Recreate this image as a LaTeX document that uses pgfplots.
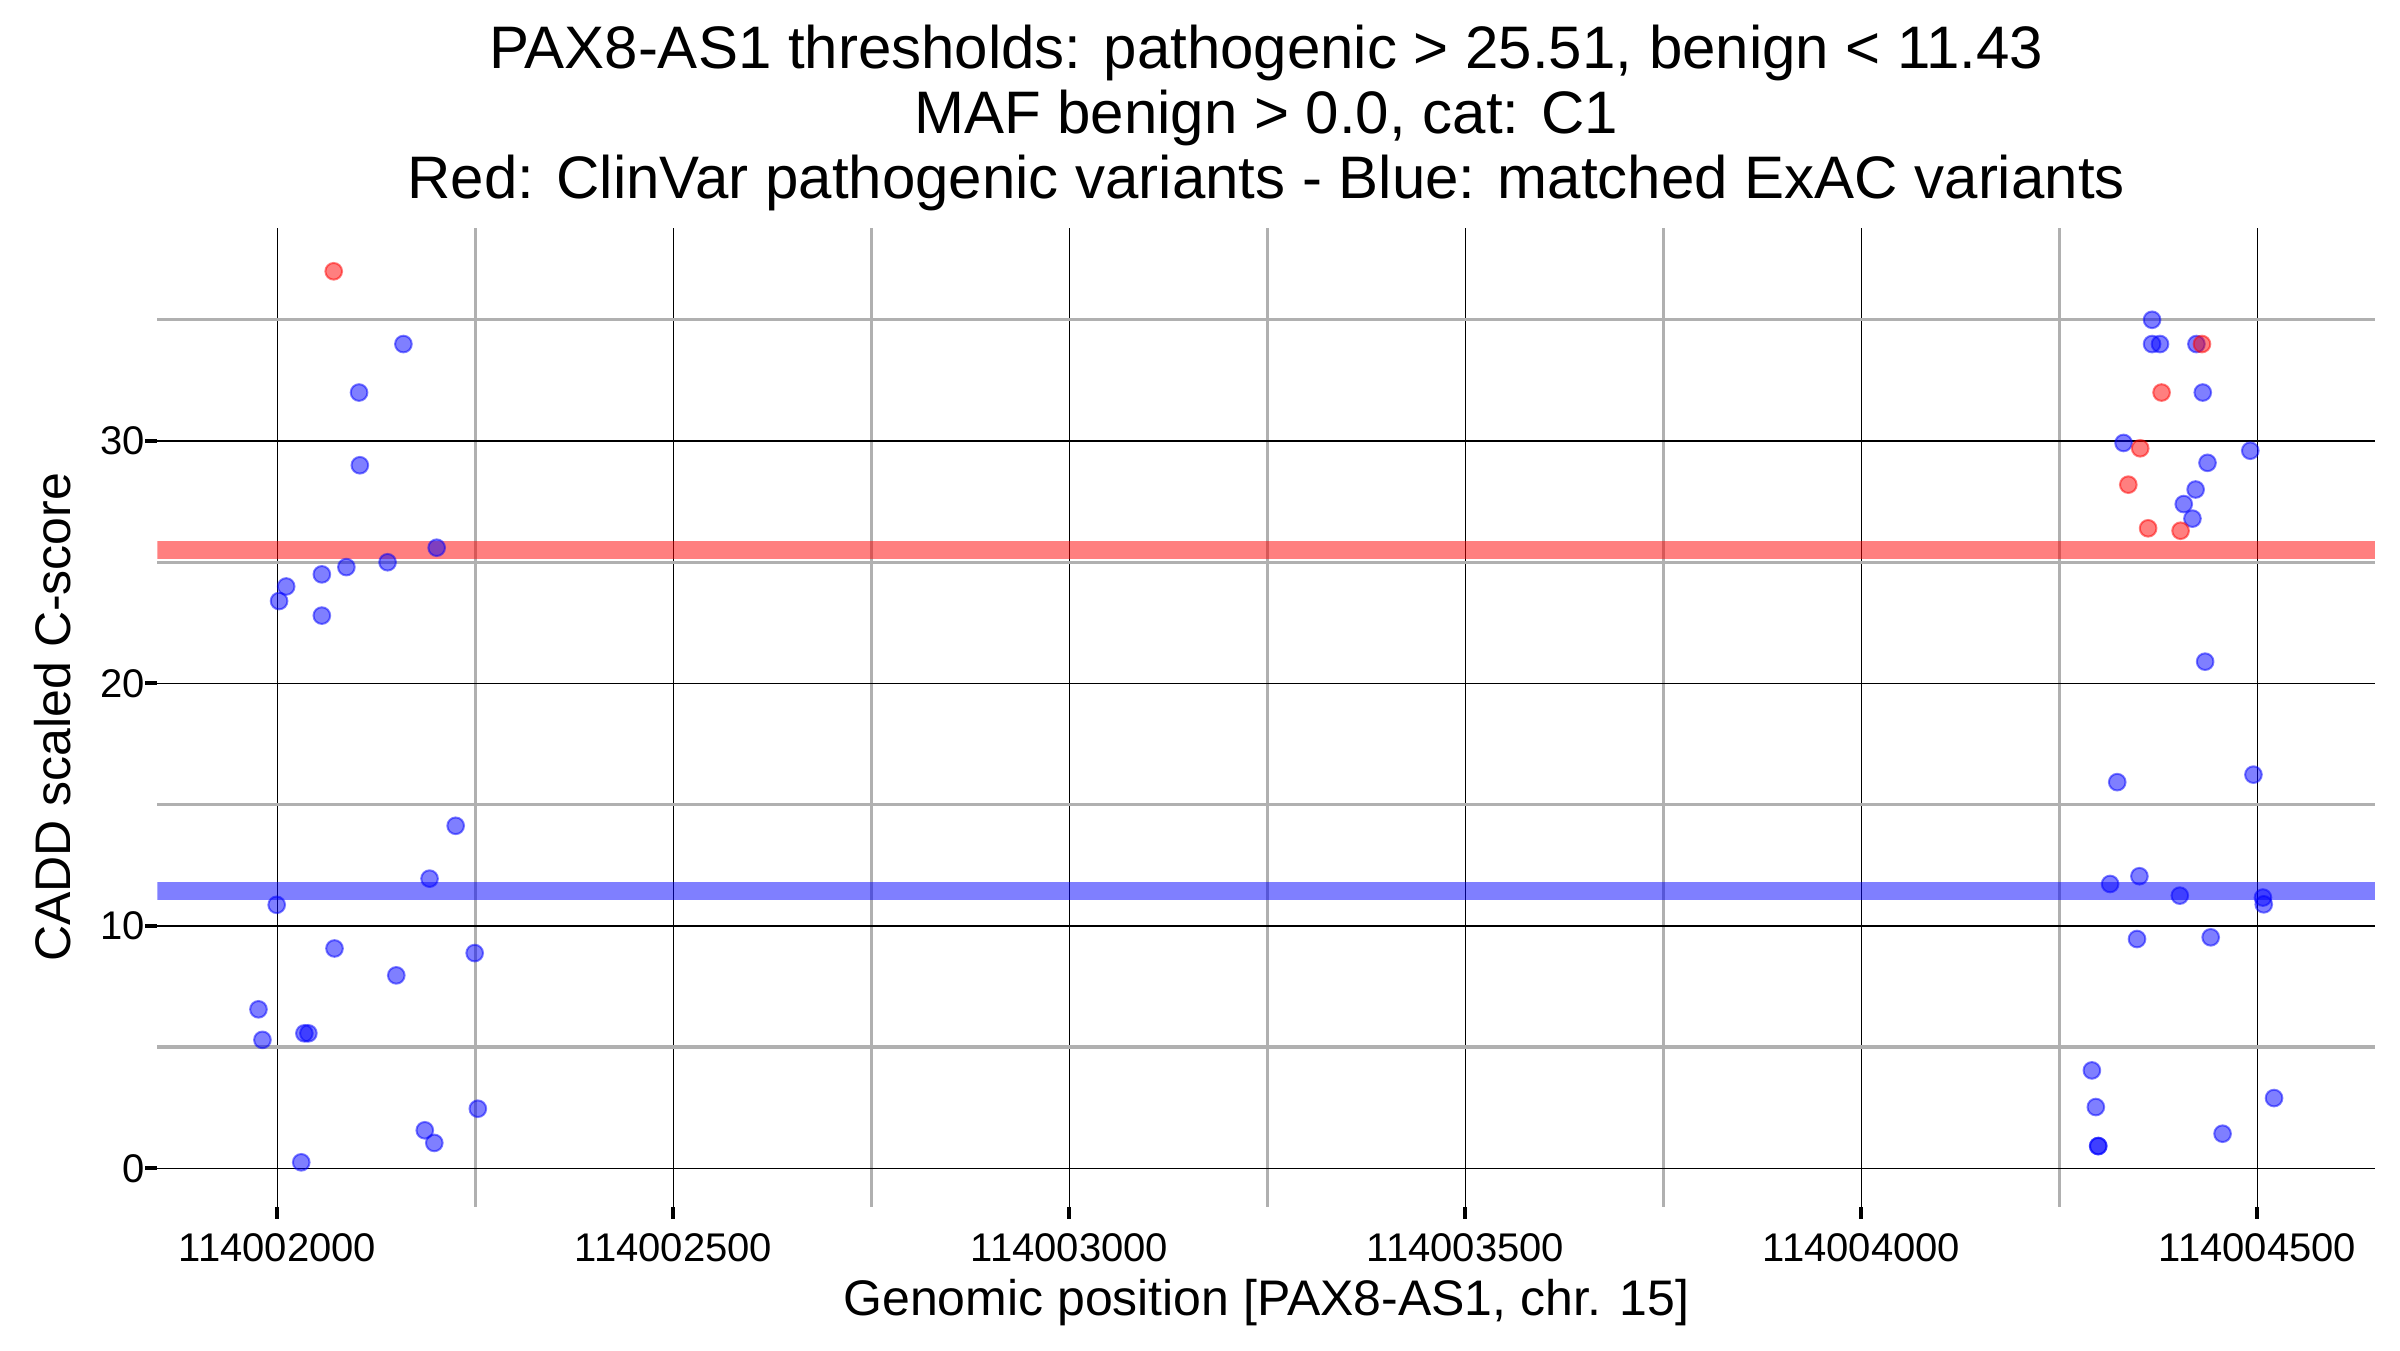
\documentclass[border=0pt]{standalone}
\usepackage{fontspec}
\setmainfont{Liberation Sans}
\usepackage{pgfplots}
\pgfplotsset{compat=1.18}

\definecolor{gridgray}{RGB}{176,176,176}

\begin{document}
\begin{tikzpicture}
\useasboundingbox (-47.25pt,-43pt) rectangle (672.75pt,362pt);
\begin{axis}[
    name=ax,
    scale only axis,
    width=665.25pt, height=293.7pt,
    % x is the genomic position minus 114000000
    xmin=1848.5, xmax=4648.5,
    ymin=-1.58, ymax=38.8,
    axis line style={draw=none},
    xtick={2000,2500,3000,3500,4000,4500},
    xticklabels={114002000,114002500,114003000,114003500,114004000,114004500},
    minor xtick={2250,2750,3250,3750,4250},
    ytick={0,10,20,30},
    minor ytick={5,15,25,35},
    grid=both,
    major grid style={black, line width=0.5pt},
    minor grid style={gridgray, line width=1pt},
    tick align=outside,
    xtick pos=bottom, ytick pos=left,
    major tick length=3.6pt,
    minor tick length=0pt,
    major tick style={black, line width=1.2pt},
    ticklabel style={font=\fontsize{12}{14}\selectfont, inner sep=0pt},
    xticklabel style={yshift=-4.2pt},
    /pgf/number format/assume math mode=true,
]
\addplot[draw=red, draw opacity=0.5, line width=5.3pt] coordinates {(1848.5,25.51) (4648.5,25.51)};
\addplot[draw=blue, draw opacity=0.5, line width=5.3pt] coordinates {(1848.5,11.43) (4648.5,11.43)};

% matched ExAC variants
\addplot[only marks, mark=*, mark size=2.5pt,
    mark options={draw=blue, fill=blue, draw opacity=0.5, fill opacity=0.5, line width=0.6pt}]
table {
x y
2159 34.0
2103 32.0
2104 29.0
2201 25.6
2139 25.0
2087 24.8
2056 24.5
2011 24.0
2002 23.4
2056 22.8
2225 14.13
2192 11.95
1999 10.87
2072 9.07
2249 8.88
2150 7.96
1976 6.56
1981 5.30
2034 5.57
2039 5.57
2253 2.46
2186 1.57
2198 1.05
2030 0.25
4367 35.0
4367 34.0
4377 34.0
4423 34.0
4431 32.0
4331 29.92
4491 29.6
4437 29.1
4422 28.0
4407 27.4
4418 26.8
4434 20.9
4323 15.93
4495 16.24
4351 12.05
4314 11.73
4402 11.25
4507 11.17
4508 10.89
4348 9.46
4441 9.53
4291 4.04
4296 2.53
4299 0.92
4299 0.92
4521 2.90
4456 1.43
};

% ClinVar pathogenic variants
\addplot[only marks, mark=*, mark size=2.5pt,
    mark options={draw=red, fill=red, draw opacity=0.5, fill opacity=0.5, line width=0.6pt}]
table {
x y
2071 37.0
4430 34.0
4379 32.0
4352 29.70
4337 28.2
4362 26.4
4403 26.3
};
\end{axis}

\node[anchor=base, font=\fontsize{18}{20}\selectfont] at ([yshift=47.8pt]ax.north) {PAX8-AS1 thresholds: pathogenic > 25.51, benign < 11.43};
\node[anchor=base, font=\fontsize{18}{20}\selectfont] at ([yshift=28.3pt]ax.north) {MAF benign > 0.0, cat: C1};
\node[anchor=base, font=\fontsize{18}{20}\selectfont] at ([yshift=8.8pt]ax.north) {Red: ClinVar pathogenic variants - Blue: matched ExAC variants};
\node[anchor=base, font=\fontsize{15}{18}\selectfont] at ([yshift=-32.7pt]ax.south) {Genomic position [PAX8-AS1, chr. 15]};
\node[anchor=base, rotate=90, font=\fontsize{15}{18}\selectfont] at ([xshift=-26pt]ax.west) {CADD scaled C-score};
\end{tikzpicture}
\end{document}
